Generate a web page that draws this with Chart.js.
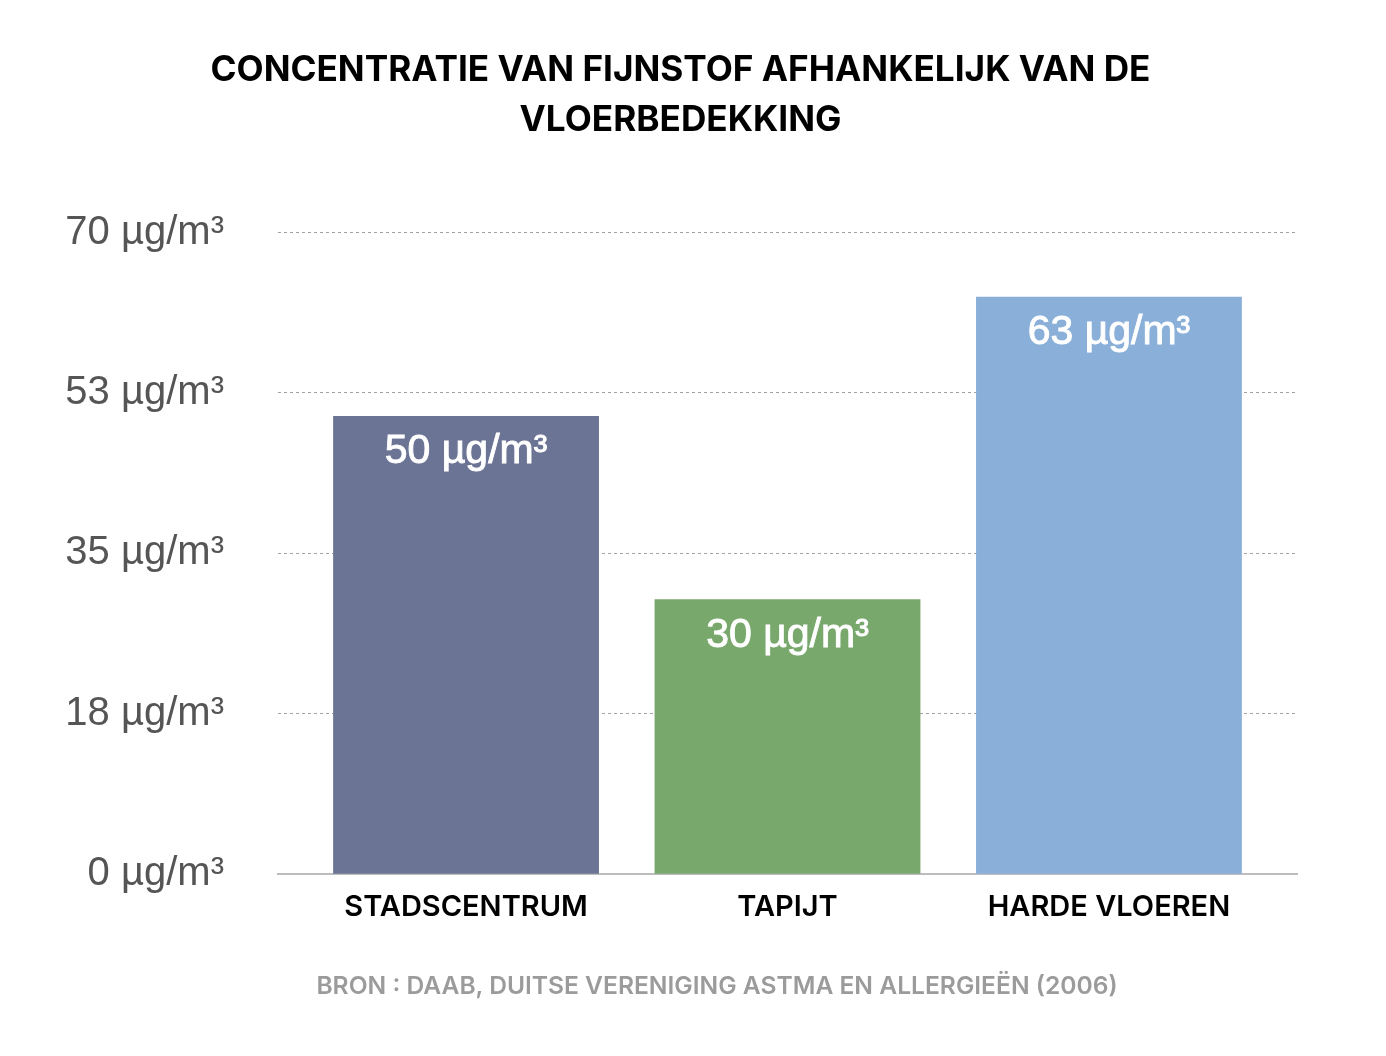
<!DOCTYPE html>
<html>
<head>
<meta charset="utf-8">
<script src="https://cdn.jsdelivr.net/npm/chart.js@4.4.1/dist/chart.umd.min.js"></script>
<style>
  html, body { margin: 0; padding: 0; background: #ffffff; }
  #wrap { position: relative; width: 1386px; height: 1056px; }
  #source {
    position: absolute;
    left: 717px;
    top: 970px;
    transform: translateX(-50%);
    white-space: nowrap;
    font-family: Inter, sans-serif;
    font-weight: 600;
    font-size: 24.6px;
    color: #9b9b9b;
  }
</style>
</head>
<body>
<div id="wrap">
  <canvas id="myChart" width="1386" height="1056"></canvas>
  <div id="source">BRON : DAAB, DUITSE VERENIGING ASTMA EN ALLERGIEËN (2006)</div>
</div>
<script>
// chart data
const categories = ["STADSCENTRUM", "TAPIJT", "HARDE VLOEREN"];
const values = [50, 30, 63];
const barColors = ["#6b7494", "#79a86d", "#8aafd9"];
const yTickLabels = ["0 µg/m³", "18 µg/m³", "35 µg/m³", "53 µg/m³", "70 µg/m³"];
const titleLines = ["CONCENTRATIE VAN FIJNSTOF AFHANKELIJK VAN DE", "VLOERBEDEKKING"];

// white value labels inside the top of each bar
const barLabels = {
  id: "barLabels",
  afterDatasetsDraw(chart) {
    const ctx = chart.ctx;
    const meta = chart.getDatasetMeta(0);
    ctx.save();
    ctx.fillStyle = "#ffffff";
    ctx.strokeStyle = "#ffffff";
    ctx.lineWidth = 0.9;
    ctx.font = "41px 'Liberation Sans', Arial, sans-serif";
    ctx.textAlign = "center";
    ctx.textBaseline = "middle";
    meta.data.forEach((bar, i) => {
      const label = values[i] + " µg/m³";
      ctx.fillText(label, bar.x, bar.y + 36);
      ctx.strokeText(label, bar.x, bar.y + 36);
    });
    ctx.restore();
  },
};

document.addEventListener("DOMContentLoaded", () => {
  const ctx = document.getElementById("myChart").getContext("2d");
  new Chart(ctx, {
    type: "bar",
    data: {
      datasets: [
        {
          data: values.map((v, i) => ({ x: i, y: v })),
          backgroundColor: barColors,
          borderWidth: 0,
          barPercentage: 0.827,
          categoryPercentage: 1,
        },
      ],
    },
    plugins: [barLabels],
    options: {
      responsive: false,
      animation: false,
      layout: {
        padding: { left: 64, right: 89, top: 0, bottom: 123 },
      },
      plugins: {
        legend: { display: false },
        tooltip: { enabled: false },
        title: {
          display: true,
          text: titleLines,
          color: "#000000",
          font: { family: "Inter", size: 35.2, weight: "bold", lineHeight: 1.4 },
          padding: { top: 46, bottom: 88 },
        },
      },
      scales: {
        x: {
          type: "linear",
          offset: false,
          min: -0.585,
          max: 2.585,
          grid: { display: false },
          border: { display: true, color: "#bdbdbd", width: 2 },
          ticks: {
            stepSize: 1,
            includeBounds: false,
            padding: 8,
            color: "#000000",
            font: { family: "Inter", size: 29, weight: "600" },
            callback: (v) => categories[v],
          },
        },
        y: {
          min: 0,
          max: 70,
          afterFit: (scale) => {
            scale.width = 214;
          },
          border: { display: false, dash: [3, 3] },
          grid: {
            drawTicks: false,
            color: (c) => (c.index === 0 ? "rgba(0,0,0,0)" : "#a0a0a0"),
            lineWidth: 1,
          },
          ticks: {
            stepSize: 17.5,
            padding: 54,
            color: "#555555",
            font: { family: "'Liberation Sans', Arial, sans-serif", size: 40 },
            callback: (v, i) => yTickLabels[i],
          },
        },
      },
    },
  });
});
</script>
</body>
</html>
